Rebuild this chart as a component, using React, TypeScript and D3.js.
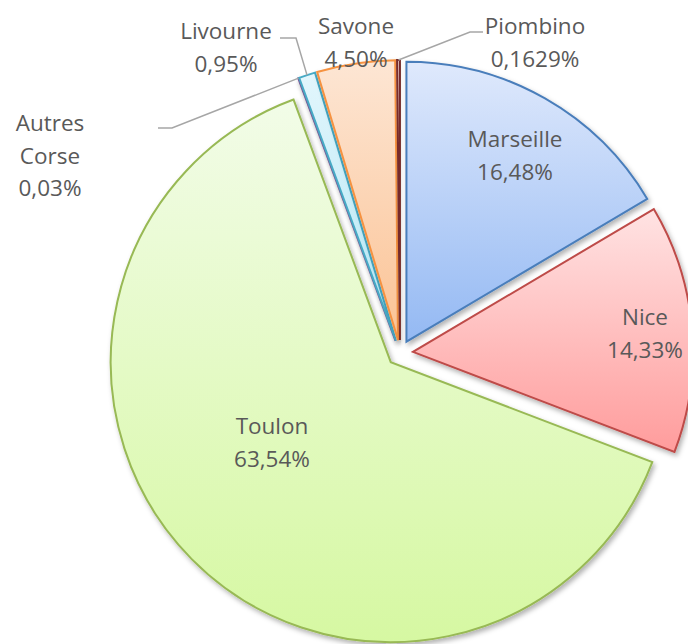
import React, { useRef, useEffect } from "react";
import * as d3 from "d3";

const ports = ["Marseille", "Nice", "Toulon", "Autres Corse", "Livourne", "Savone", "Piombino"];
const shares = [16.48, 14.33, 63.54, 0.03, 0.95, 4.5, 0.1629];
const shareLabels = ["16,48%", "14,33%", "63,54%", "0,03%", "0,95%", "4,50%", "0,1629%"];
const strokes = ["#4a7ebb", "#be4b48", "#98b954", "#7d60a0", "#46aac5", "#f69240", "#772c2a"];
const topColors = ["#dfe9fc", "#ffe3e3", "#f2fce8", "#e6dcf2", "#e2f6fc", "#fde6d4", "#e6c6c6"];
const bottomColors = ["#94b9f3", "#ff9c9c", "#d6f8a2", "#b9a5d6", "#b2e6f5", "#fbc395", "#a65a58"];

const W = 688;
const H = 644;
const cx = 400;
const cy = 353;
const radius = 280;
const explode = 13;

// label text position (centre of the first line) and optional leader elbow
const labelLayout: Record<string, { x: number; y: number; lines: string[]; elbow?: [number, number][] }> = {
  Marseille: { x: 515, y: 138, lines: ["Marseille"] },
  Nice: { x: 645, y: 316, lines: ["Nice"] },
  Toulon: { x: 272, y: 425, lines: ["Toulon"] },
  "Autres Corse": { x: 50, y: 122, lines: ["Autres", "Corse"], elbow: [[172, 128], [158, 128]] },
  Livourne: { x: 226, y: 30, lines: ["Livourne"], elbow: [[296, 38], [280, 38]] },
  Savone: { x: 356, y: 25, lines: ["Savone"] },
  Piombino: { x: 535, y: 25, lines: ["Piombino"], elbow: [[470, 32], [483, 32]] },
};

const App = () => {
  const ref = useRef<SVGSVGElement>(null);

  useEffect(() => {
    const svg = d3.select(ref.current);
    svg.selectAll("*").remove();

    const defs = svg.append("defs");
    ports.forEach((p, i) => {
      const g = defs
        .append("linearGradient")
        .attr("id", "grad" + i)
        .attr("x1", 0)
        .attr("y1", 0)
        .attr("x2", 0)
        .attr("y2", 1);
      g.append("stop").attr("offset", "0%").attr("stop-color", topColors[i]);
      g.append("stop").attr("offset", "100%").attr("stop-color", bottomColors[i]);
    });
    const shadow = defs
      .append("filter")
      .attr("id", "shadow")
      .attr("x", "-10%")
      .attr("y", "-10%")
      .attr("width", "120%")
      .attr("height", "120%");
    shadow
      .append("feDropShadow")
      .attr("dx", 2)
      .attr("dy", 3)
      .attr("stdDeviation", 2.5)
      .attr("flood-color", "#000")
      .attr("flood-opacity", 0.3);

    const pie = d3
      .pie<number>()
      .sort(null)
      .value((d) => d);
    const arcs = pie(shares);
    const arc = d3.arc<d3.PieArcDatum<number>>().innerRadius(0).outerRadius(radius);

    const offset = (a: d3.PieArcDatum<number>) => {
      const mid = (a.startAngle + a.endAngle) / 2;
      return [cx + explode * Math.sin(mid), cy - explode * Math.cos(mid)];
    };

    const g = svg.append("g");
    g.selectAll("path.slice")
      .data(arcs)
      .enter()
      .append("path")
      .attr("class", "slice")
      .attr("transform", (d) => {
        const [x, y] = offset(d);
        return `translate(${x},${y})`;
      })
      .attr("d", arc)
      .attr("fill", (d, i) => `url(#grad${i})`)
      .attr("stroke", (d, i) => strokes[i])
      .attr("stroke-width", 2)
      .attr("stroke-linejoin", "miter")
      .attr("filter", "url(#shadow)");

    // leader lines
    arcs.forEach((a, i) => {
      const lay = labelLayout[ports[i]];
      if (!lay.elbow) return;
      const [ox, oy] = offset(a);
      const mid = (a.startAngle + a.endAngle) / 2;
      const sx = ox + radius * Math.sin(mid);
      const sy = oy - radius * Math.cos(mid);
      const pts: [number, number][] = [[sx, sy], ...lay.elbow];
      svg
        .append("path")
        .attr("d", d3.line()(pts))
        .attr("fill", "none")
        .attr("stroke", "#a6a6a6")
        .attr("stroke-width", 1.5);
    });

    // labels
    arcs.forEach((a, i) => {
      const lay = labelLayout[ports[i]];
      const lines = [...lay.lines, shareLabels[i]];
      const t = svg
        .append("text")
        .attr("x", lay.x)
        .attr("y", lay.y)
        .attr("text-anchor", "middle")
        .attr("dominant-baseline", "central")
        .style("font-family", "'Open Sans', sans-serif")
        .style("font-size", "22.5px")
        .attr("fill", "#595959");
      lines.forEach((l, k) => {
        t.append("tspan")
          .attr("x", lay.x)
          .attr("dy", k === 0 ? 0 : 32.5)
          .text(l);
      });
    });
  }, []);

  return (
    <svg
      ref={ref}
      width={W}
      height={H}
      style={{ position: "absolute", left: 0, top: 0, background: "#fff" }}
    />
  );
};

export default App;
